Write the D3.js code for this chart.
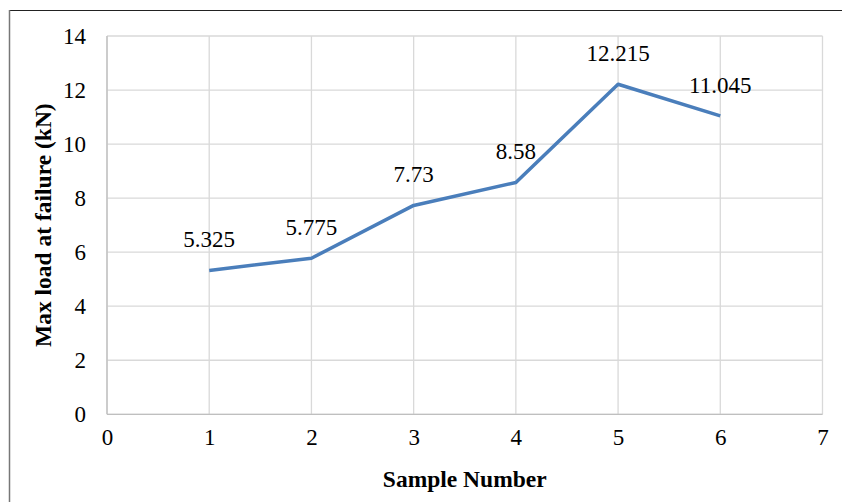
<!DOCTYPE html>
<html><head><meta charset="utf-8">
<script src="https://cdn.jsdelivr.net/npm/d3@7"></script>
<style>
html,body{margin:0;padding:0;background:#fff;}
svg{display:block;}
</style></head>
<body>
<svg id="chart" width="842" height="502"></svg>
<script>
const samples = [1, 2, 3, 4, 5, 6];
const maxLoad = [5.325, 5.775, 7.73, 8.58, 12.215, 11.045];
const loadLabels = ["5.325", "5.775", "7.73", "8.58", "12.215", "11.045"];
const xTicks = [0, 1, 2, 3, 4, 5, 6, 7];
const yTicks = [0, 2, 4, 6, 8, 10, 12, 14];

const svg = d3.select("#chart");
const W = 842, H = 502;
const m = {left: 107, right: 842 - 822.5, top: 36, bottom: 502 - 414.3};
const font = "'Liberation Serif','Times New Roman',serif";

// outer frame
svg.append("line").attr("x1", 9.5).attr("x2", W).attr("y1", 10.5).attr("y2", 10.5).attr("stroke", "#222").attr("stroke-width", 1.2);
svg.append("line").attr("x1", 9.5).attr("x2", 9.5).attr("y1", 10).attr("y2", H).attr("stroke", "#777").attr("stroke-width", 1.5);

const x = d3.scaleLinear().domain([0, 7]).range([m.left, W - m.right]);
const y = d3.scaleLinear().domain([0, 14]).range([H - m.bottom, m.top]);

const g = svg.append("g");
// gridlines
g.selectAll(".vg").data(xTicks).enter().append("line")
  .attr("x1", d => x(d)).attr("x2", d => x(d)).attr("y1", y(0)).attr("y2", y(14))
  .attr("stroke", "#d9d9d9").attr("stroke-width", 1.3);
g.selectAll(".hg").data(yTicks).enter().append("line")
  .attr("x1", x(0)).attr("x2", x(7)).attr("y1", d => y(d)).attr("y2", d => y(d))
  .attr("stroke", "#d9d9d9").attr("stroke-width", 1.3);
// axis lines
g.append("line").attr("x1", x(0)).attr("x2", x(7)).attr("y1", y(0)).attr("y2", y(0)).attr("stroke", "#bfbfbf").attr("stroke-width", 1.3);
g.append("line").attr("x1", x(0)).attr("x2", x(0)).attr("y1", y(0)).attr("y2", y(14)).attr("stroke", "#bfbfbf").attr("stroke-width", 1.3);

// axes (labels only)
const xAxis = d3.axisBottom(x).tickValues(xTicks).tickSize(0).tickPadding(14).tickFormat(d3.format("d"));
const xg = svg.append("g").attr("transform", `translate(0,${y(0)})`).call(xAxis);
const yAxis = d3.axisLeft(y).tickValues(yTicks).tickSize(0).tickPadding(21).tickFormat(d3.format("d"));
const yg = svg.append("g").attr("transform", `translate(${x(0)},0)`).call(yAxis);
[xg, yg].forEach(a => {
  a.select(".domain").remove();
  a.selectAll("text").attr("font-family", font).attr("font-size", 23).attr("fill", "#000");
});

// line
const line = d3.line().x((d, i) => x(samples[i])).y(d => y(d));
svg.append("path").datum(maxLoad).attr("d", line)
  .attr("fill", "none").attr("stroke", "#4a7ebb").attr("stroke-width", 3.5)
  .attr("stroke-linejoin", "round").attr("stroke-linecap", "butt");

// data labels
svg.selectAll(".dl").data(maxLoad).enter().append("text")
  .attr("x", (d, i) => x(samples[i])).attr("y", d => y(d) - 23)
  .attr("text-anchor", "middle").attr("font-family", font).attr("font-size", 23).attr("fill", "#000")
  .text((d, i) => loadLabels[i]);

// axis titles
svg.append("text").attr("x", (x(0) + x(7)) / 2).attr("y", 487)
  .attr("text-anchor", "middle").attr("font-family", font).attr("font-size", 23.5).attr("font-weight", "bold")
  .text("Sample Number");
svg.append("text").attr("transform", `translate(51,${(y(0) + y(14)) / 2}) rotate(-90)`)
  .attr("text-anchor", "middle").attr("font-family", font).attr("font-size", 23.5).attr("font-weight", "bold")
  .text("Max load at failure (kN)");
</script>
</body></html>
